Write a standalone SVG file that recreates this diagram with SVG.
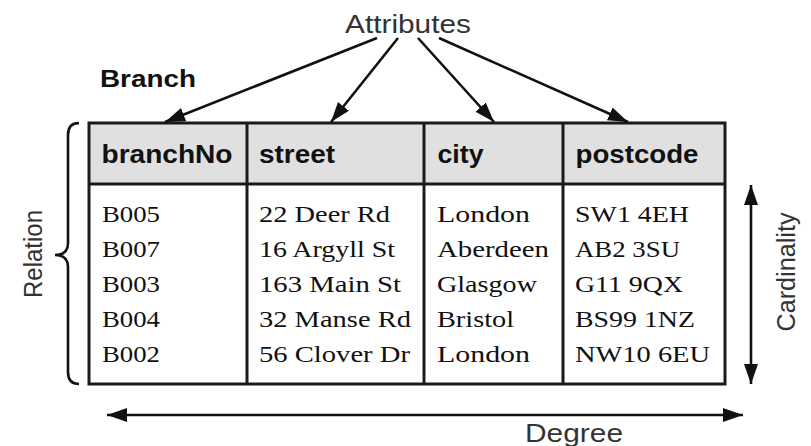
<svg xmlns="http://www.w3.org/2000/svg" width="811" height="446" viewBox="0 0 811 446">
  <style>
    .lbl { font-family: "Liberation Sans", Arial, sans-serif; font-size: 25px; fill: #333; }
    .ttl { font-family: "Liberation Sans", Arial, sans-serif; font-size: 24px; font-weight: bold; fill: #111; }
    .hdr { font-family: "Liberation Sans", Arial, sans-serif; font-size: 25px; font-weight: bold; fill: #111; }
    .val { font-family: "Liberation Serif", "Times New Roman", serif; font-size: 23px; fill: #111; }
    .conn { stroke: #111; stroke-width: 2.6; fill: none; }
    .grid { stroke: #1a1a1a; stroke-width: 3; fill: none; }
  </style>
  <defs>
    <marker id="head" markerUnits="userSpaceOnUse" markerWidth="22" markerHeight="16" refX="20" refY="8" orient="auto-start-reverse">
      <path d="M0,1 L20,8 L0,15 z" fill="#111"/>
    </marker>
  </defs>
  <rect width="811" height="446" fill="#fff"/>

  <g id="title">
    <text class="ttl" x="100" y="87" textLength="96" lengthAdjust="spacingAndGlyphs">Branch</text>
  </g>

  <g id="attributes">
    <text class="lbl" x="345" y="33" textLength="126" lengthAdjust="spacingAndGlyphs">Attributes</text>
  </g>

  <g id="table">
    <rect x="89" y="123" width="636" height="61" fill="#e0e0e0"/>
    <rect class="grid" x="89" y="123" width="636" height="261"/>
    <line class="grid" x1="89" y1="184" x2="725" y2="184"/>
    <line class="grid" x1="247" y1="123" x2="247" y2="384"/>
    <line class="grid" x1="424" y1="123" x2="424" y2="384"/>
    <line class="grid" x1="563" y1="123" x2="563" y2="384"/>

    <text class="hdr" x="101.5" y="163" textLength="131" lengthAdjust="spacingAndGlyphs">branchNo</text>
    <text class="hdr" x="259" y="163" textLength="76" lengthAdjust="spacingAndGlyphs">street</text>
    <text class="hdr" x="437.5" y="163" textLength="46" lengthAdjust="spacingAndGlyphs">city</text>
    <text class="hdr" x="575.5" y="163" textLength="123" lengthAdjust="spacingAndGlyphs">postcode</text>

    <text class="val" x="102" y="222" textLength="58" lengthAdjust="spacingAndGlyphs">B005</text>
    <text class="val" x="102" y="257" textLength="58" lengthAdjust="spacingAndGlyphs">B007</text>
    <text class="val" x="102" y="292" textLength="58" lengthAdjust="spacingAndGlyphs">B003</text>
    <text class="val" x="102" y="327" textLength="58" lengthAdjust="spacingAndGlyphs">B004</text>
    <text class="val" x="102" y="362" textLength="58" lengthAdjust="spacingAndGlyphs">B002</text>

    <text class="val" x="259" y="222" textLength="131" lengthAdjust="spacingAndGlyphs">22 Deer Rd</text>
    <text class="val" x="259" y="257" textLength="136" lengthAdjust="spacingAndGlyphs">16 Argyll St</text>
    <text class="val" x="259" y="292" textLength="142" lengthAdjust="spacingAndGlyphs">163 Main St</text>
    <text class="val" x="259" y="327" textLength="152" lengthAdjust="spacingAndGlyphs">32 Manse Rd</text>
    <text class="val" x="259" y="362" textLength="151" lengthAdjust="spacingAndGlyphs">56 Clover Dr</text>

    <text class="val" x="437" y="222" textLength="93" lengthAdjust="spacingAndGlyphs">London</text>
    <text class="val" x="437" y="257" textLength="112" lengthAdjust="spacingAndGlyphs">Aberdeen</text>
    <text class="val" x="437" y="292" textLength="100" lengthAdjust="spacingAndGlyphs">Glasgow</text>
    <text class="val" x="437" y="327" textLength="77" lengthAdjust="spacingAndGlyphs">Bristol</text>
    <text class="val" x="437" y="362" textLength="93" lengthAdjust="spacingAndGlyphs">London</text>

    <text class="val" x="575" y="222" textLength="114" lengthAdjust="spacingAndGlyphs">SW1 4EH</text>
    <text class="val" x="575" y="257" textLength="105" lengthAdjust="spacingAndGlyphs">AB2 3SU</text>
    <text class="val" x="575" y="292" textLength="108" lengthAdjust="spacingAndGlyphs">G11 9QX</text>
    <text class="val" x="575" y="327" textLength="120" lengthAdjust="spacingAndGlyphs">BS99 1NZ</text>
    <text class="val" x="575" y="362" textLength="135" lengthAdjust="spacingAndGlyphs">NW10 6EU</text>
  </g>

  <g id="relation">
    <path class="conn" d="M79,123 Q68,123 68,135 L68,243 Q68,255 55,255 Q68,255 68,267 L68,372 Q68,384 79,384"/>
    <text class="lbl" transform="translate(42,254) rotate(-90)" text-anchor="middle" textLength="88" lengthAdjust="spacingAndGlyphs">Relation</text>
  </g>

  <g id="cardinality">
    <text class="lbl" transform="translate(795,272) rotate(-90)" text-anchor="middle" textLength="119" lengthAdjust="spacingAndGlyphs">Cardinality</text>
  </g>

  <g id="degree">
    <text class="lbl" x="525" y="442" textLength="98" lengthAdjust="spacingAndGlyphs">Degree</text>
  </g>

  <g id="connectors">
    <line class="conn" x1="377" y1="38" x2="165" y2="122" marker-end="url(#head)"/>
    <line class="conn" x1="398" y1="38" x2="331" y2="122" marker-end="url(#head)"/>
    <line class="conn" x1="418" y1="38" x2="494" y2="122" marker-end="url(#head)"/>
    <line class="conn" x1="439" y1="38" x2="628" y2="122" marker-end="url(#head)"/>
    <line class="conn" x1="751" y1="185" x2="751" y2="384" marker-start="url(#head)" marker-end="url(#head)"/>
    <line class="conn" x1="107" y1="415" x2="743" y2="415" marker-start="url(#head)" marker-end="url(#head)"/>
  </g>
</svg>
